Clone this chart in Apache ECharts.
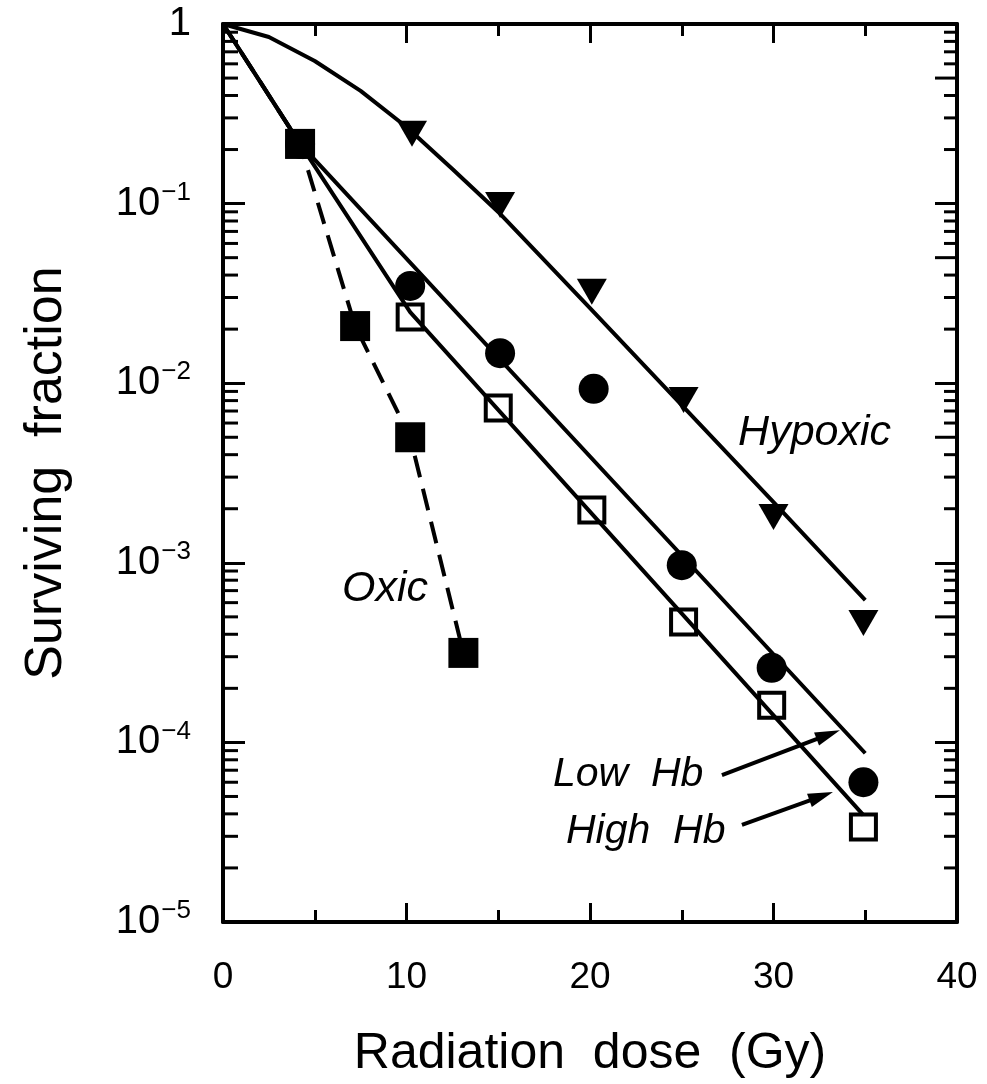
<!DOCTYPE html>
<html>
<head>
<meta charset="utf-8">
<title>Surviving fraction vs radiation dose</title>
<script src="https://cdn.jsdelivr.net/npm/echarts@6/dist/echarts.min.js"></script>
<style>
  html, body { margin: 0; padding: 0; background: #ffffff; }
  #chart { width: 987px; height: 1084px; }
</style>
</head>
<body>
<div id="chart"></div>
<script>
// ---- Measured points ----
const oxicDose = [4.2, 7.2, 10.2, 13.1];
const oxicSF = [0.215, 0.0208, 0.005, 0.000315];

const lowHbDose = [4.2, 10.2, 15.1, 20.2, 25.0, 29.9, 34.9];
const lowHbSF = [0.215, 0.0348, 0.0147, 0.0093, 0.00097, 0.00026, 0.00006];

const highHbDose = [4.2, 10.2, 15.0, 20.1, 25.1, 29.9, 34.9];
const highHbSF = [0.215, 0.0234, 0.00727, 0.00197, 0.000468, 0.000161, 0.0000338];

const hypoxicDose = [10.3, 15.1, 20.1, 25.1, 30.0, 34.9];
const hypoxicSF = [0.245, 0.0982, 0.0323, 0.00806, 0.0018, 0.000462];

// ---- Fitted survival curves ----
const hypoxicFitDose = [0, 2.5, 5, 7.5, 10, 12.5, 15, 20, 25, 30, 35];
const hypoxicFitSF = [1, 0.846, 0.622, 0.424, 0.267, 0.156, 0.0898, 0.0262, 0.00756, 0.00218, 0.00062];

const lowHbFitDose = [0, 4.2, 35.0];
const lowHbFitSF = [1, 0.215, 0.000087];

const highHbFitDose = [0, 4.2, 10.2, 34.9];
const highHbFitSF = [1, 0.215, 0.0249, 0.0000394];

const oxicFitDose = [0, 4.2, 7.2, 10.2, 13.1];
const oxicFitSF = [1, 0.215, 0.0208, 0.005, 0.000315];

// ---- Axis ticks ----
const doseTicks = [0, 10, 20, 30, 40];
const sfDecades = [1e-5, 1e-4, 1e-3, 1e-2, 1e-1, 1];
const sfMinorTicks = [];
for (let i = 0; i < sfDecades.length - 1; i++) {
  for (let m = 2; m <= 9; m++) sfMinorTicks.push(m * sfDecades[i]);
}

// ---- Curve labels and pointer arrows (dose, surviving fraction) ----
const textLabels = [
  { text: 'Oxic', at: [6.49, 7.15e-4], size: 43 },
  { text: 'Hypoxic', at: [28.07, 5.28e-3], size: 43 },
  { text: 'Low  Hb', at: [17.98, 6.58e-5], size: 41 },
  { text: 'High  Hb', at: [18.69, 3.17e-5], size: 41 }
];
const arrows = [
  { from: [27.19, 6.58e-5], to: [33.62, 1.17e-4] },
  { from: [28.28, 3.47e-5], to: [33.24, 5.3e-5] }
];

const FONT = "'Liberation Sans', Arial, Helvetica, sans-serif";
const INK = '#000000';

function pairs(xs, ys) { return xs.map((x, i) => [x, ys[i]]); }

const chart = echarts.init(document.getElementById('chart'), null, { renderer: 'canvas' });

const xAxisBase = {
  type: 'value', min: doseTicks[0], max: doseTicks[doseTicks.length - 1], interval: 10,
  axisLine: { show: true, onZero: false, lineStyle: { color: INK, width: 4 } },
  axisTick: { show: true, inside: true, length: 19, lineStyle: { color: INK, width: 3 } },
  minorTick: { show: true, splitNumber: 2, length: 12, lineStyle: { color: INK, width: 3 } },
  splitLine: { show: false },
  minorSplitLine: { show: false }
};

const yAxisBase = {
  type: 'log', logBase: 10, min: sfDecades[0], max: sfDecades[sfDecades.length - 1],
  axisLine: { show: true, onZero: false, lineStyle: { color: INK, width: 4 } },
  axisTick: { show: true, inside: true, length: 22, lineStyle: { color: INK, width: 3 } },
  minorTick: { show: false },
  splitLine: { show: false },
  minorSplitLine: { show: false }
};

function sfLabel(v) {
  const e = Math.round(Math.log10(v));
  if (e === 0) return '{b|1}';
  return '{b|10}{s|\u2212' + (-e) + '}';
}

const option = {
  animation: false,
  backgroundColor: '#ffffff',
  textStyle: { fontFamily: FONT, color: INK },
  grid: { left: 223, right: 30, top: 24, bottom: 162, containLabel: false },
  xAxis: [
    Object.assign({}, xAxisBase, {
      position: 'bottom',
      axisLabel: { show: true, color: INK, fontSize: 37, fontFamily: FONT, margin: 37 },
      name: 'Radiation  dose  (Gy)', nameLocation: 'middle', nameGap: 107,
      nameTextStyle: { color: INK, fontSize: 50, fontFamily: FONT }
    }),
    Object.assign({}, xAxisBase, { position: 'top', axisLabel: { show: false } })
  ],
  yAxis: [
    Object.assign({}, yAxisBase, {
      position: 'left',
      axisLabel: {
        show: true, margin: 32, formatter: sfLabel,
        rich: {
          b: { fontSize: 40, color: INK, fontFamily: FONT },
          s: { fontSize: 26, color: INK, fontFamily: FONT, padding: [0, 0, 22, 1] }
        }
      },
      name: 'Surviving  fraction', nameLocation: 'middle', nameGap: 150, nameRotate: 90,
      nameTextStyle: { color: INK, fontSize: 52, fontFamily: FONT }
    }),
    Object.assign({}, yAxisBase, { position: 'right', axisLabel: { show: false } })
  ],
  series: [
    {
      // minor ticks at 2..9 of every decade on both vertical frame sides
      type: 'custom', silent: true, z: 1, clip: false,
      data: sfMinorTicks.map(v => [0, v]),
      encode: { x: 0, y: 1 },
      renderItem: function (params, api) {
        const v = api.value(1);
        const mant = Math.round(v / Math.pow(10, Math.floor(Math.log10(v) + 1e-9)));
        const l = api.coord([doseTicks[0], v]);
        const r = api.coord([doseTicks[doseTicks.length - 1], v]);
        const rightLen = mant === 5 ? 22 : 13;
        return {
          type: 'group',
          children: [
            { type: 'line', shape: { x1: l[0], y1: l[1], x2: l[0] + 15, y2: l[1] },
              style: { stroke: INK, lineWidth: 3 } },
            { type: 'line', shape: { x1: r[0] - rightLen, y1: r[1], x2: r[0], y2: r[1] },
              style: { stroke: INK, lineWidth: 3 } }
          ]
        };
      }
    },
    {
      name: 'Hypoxic fit', type: 'line', data: pairs(hypoxicFitDose, hypoxicFitSF),
      showSymbol: false, smooth: false, z: 2, silent: true,
      lineStyle: { color: INK, width: 4, join: 'round' }
    },
    {
      name: 'Low Hb fit', type: 'line', data: pairs(lowHbFitDose, lowHbFitSF),
      showSymbol: false, z: 2, silent: true,
      lineStyle: { color: INK, width: 4 }
    },
    {
      name: 'High Hb fit', type: 'line', data: pairs(highHbFitDose, highHbFitSF),
      showSymbol: false, z: 2, silent: true,
      lineStyle: { color: INK, width: 4 }
    },
    {
      name: 'Oxic fit', type: 'line', data: pairs(oxicFitDose, oxicFitSF),
      showSymbol: false, z: 2, silent: true,
      lineStyle: { color: INK, width: 4, type: [22, 12] }
    },
    {
      name: 'Hypoxic', type: 'scatter', data: pairs(hypoxicDose, hypoxicSF),
      symbol: 'triangle', symbolRotate: 180, symbolSize: [30, 26], z: 3, silent: true,
      itemStyle: { color: INK, opacity: 1 }
    },
    {
      name: 'Low Hb', type: 'scatter', data: pairs(lowHbDose, lowHbSF),
      symbol: 'circle', symbolSize: 30, z: 3, silent: true,
      itemStyle: { color: INK, opacity: 1 }
    },
    {
      name: 'High Hb', type: 'scatter', data: pairs(highHbDose, highHbSF),
      symbol: 'rect', symbolSize: 25, z: 3, silent: true,
      itemStyle: { color: 'rgba(0,0,0,0)', borderColor: INK, borderWidth: 4, opacity: 1 }
    },
    {
      name: 'Oxic', type: 'scatter', data: pairs(oxicDose, oxicSF),
      symbol: 'rect', symbolSize: 30, z: 4, silent: true,
      itemStyle: { color: INK, opacity: 1 }
    }
  ]
};

chart.setOption(option);

// Curve labels and arrows positioned in data space
function toPx(p) { return chart.convertToPixel({ xAxisIndex: 0, yAxisIndex: 0 }, p); }

const graphics = [];
textLabels.forEach(function (t) {
  const p = toPx(t.at);
  graphics.push({
    type: 'text', x: p[0], y: p[1], silent: true, z: 10,
    style: { text: t.text, fill: INK, fontSize: t.size, fontStyle: 'italic',
             fontFamily: FONT, align: 'left', verticalAlign: 'middle' }
  });
});
arrows.forEach(function (a) {
  const p0 = toPx(a.from), p1 = toPx(a.to);
  const dx = p1[0] - p0[0], dy = p1[1] - p0[1];
  const len = Math.sqrt(dx * dx + dy * dy);
  const ux = dx / len, uy = dy / len;
  const headLen = 25, headHalf = 7;
  const bx = p1[0] - ux * headLen, by = p1[1] - uy * headLen;
  graphics.push({
    type: 'line', silent: true, z: 10,
    shape: { x1: p0[0], y1: p0[1], x2: bx + ux * 2, y2: by + uy * 2 },
    style: { stroke: INK, lineWidth: 4 }
  });
  graphics.push({
    type: 'polygon', silent: true, z: 10,
    shape: { points: [[p1[0], p1[1]], [bx - uy * headHalf, by + ux * headHalf], [bx + uy * headHalf, by - ux * headHalf]] },
    style: { fill: INK }
  });
});
chart.setOption({ graphic: graphics });
</script>
</body>
</html>
